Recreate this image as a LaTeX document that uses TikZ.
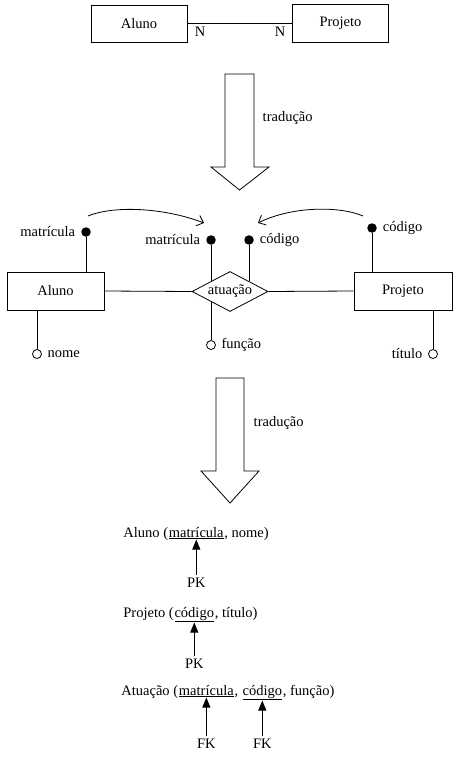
\documentclass[tikz,border=0pt]{standalone}
\usepackage{fontspec}
\setmainfont{Liberation Serif}
\usetikzlibrary{arrows.meta, positioning, shapes.geometric}

\begin{document}
\begin{tikzpicture}[
  x=1pt, y=-1pt,
  font=\fontsize{14.5}{17}\selectfont,
  line width=0.8pt,
  ent/.style={draw, minimum width=96pt, minimum height=38pt},
  rel/.style={draw, diamond, aspect=2, inner sep=0pt, minimum width=76pt, minimum height=40pt},
  keyatt/.style={circle, fill, inner sep=0pt, minimum size=9.5pt},
  att/.style={circle, draw, inner sep=0pt, minimum size=9pt},
  word/.style={inner sep=0pt},
  bigarr/.style={draw, fill=white},
  curv/.style={-{Straight Barb[length=6pt,width=11pt]}},
  pkarr/.style={-{Triangle[length=10pt,width=8pt]}},
  label distance=2pt
]
\useasboundingbox (0,0) rectangle (461,762);

% N:N
\node[ent, minimum height=37pt] (a0) at (139,23.5) {Aluno};
\node[ent] (p0) at (340.5,23.5) {Projeto};
\draw (a0.east) -- (p0.west);
\node (n1) at (200,32) {N};
\node (n2) at (280,32) {N};

% traducao 1
\draw[bigarr] (225,74) -- (254,74) -- (254,167) -- (269,167) -- (239.5,190) -- (211,167) -- (225,167) -- cycle;
\node[anchor=west] (t1) at (259,118) {tradução};

% entidades e relacionamento
\node[ent, minimum width=97pt] (aluno) at (55.5,291) {Aluno};
\node[ent, minimum width=98pt] (projeto) at (403,291) {Projeto};
\node[rel] (atua) at (230,291.5) {atuação};
\draw (aluno.east) -- (atua.west);
\draw (atua.east) -- (projeto.west);

% atributos
\node[keyatt, label=left:matrícula] (k1) at (86,232) {};
\draw (k1) -- (k1 |- aluno.north);
\node[keyatt, label=left:matrícula] (k2) at (211,240) {};
\draw (k2) -- (k2 |- atua.north west);
\node[keyatt, label=right:código] (k3) at (249,240) {};
\draw (k3) -- (k3 |- atua.north east);
\node[keyatt, label=right:código] (k4) at (372,228) {};
\draw (k4) -- (k4 |- projeto.north);
\node[att, label=right:nome] (nome) at (37,354) {};
\draw (nome |- aluno.south) -- (nome);
\node[att, label=right:função] (func) at (211,345) {};
\draw (func |- atua.south west) -- (func);
\node[att, label=left:título] (tit) at (433,354) {};
\draw (tit |- projeto.south) -- (tit);

% chaves migrando
\coordinate (c1) at (88,216);
\coordinate (c2) at (204,223);
\coordinate (c3) at (363,216);
\coordinate (c4) at (258,223);
\draw[curv] (c1) .. controls (115,205) and (165,208) .. (c2);
\draw[curv] (c3) .. controls (340,206) and (292,206) .. (c4);

% traducao 2
\draw[bigarr] (216,378) -- (244,378) -- (244,471) -- (259,471) -- (230,503) -- (201,471) -- (216,471) -- cycle;
\node[anchor=west] (t2) at (250,423) {tradução};

% tabelas
\node[word, anchor=base west] (r1a) at (123,537) {Aluno (};
\node[word, base right=0pt of r1a] (r1k) {\underline{matrícula}};
\node[word, base right=0pt of r1k] (r1b) {, nome)};
\node (pk1) at (r1k |- 0,583) {PK};
\draw[pkarr] (pk1.north) -- (r1k.south);

\node[word, anchor=base west] (r2a) at (123,617) {Projeto (};
\node[word, base right=0pt of r2a] (r2k) {\underline{código}};
\node[word, base right=0pt of r2k] (r2b) {, título)};
\node (pk2) at (r2k |- 0,664) {PK};
\draw[pkarr] (pk2.north) -- (r2k.south);

\node[word, anchor=base west] (r3a) at (121,695) {Atuação (};
\node[word, base right=0pt of r3a] (r3k1) {\underline{matrícula}};
\node[word, base right=0pt of r3k1] (r3c) {,\kern0.25em};
\node[word, base right=0pt of r3c] (r3k2) {\underline{código}};
\node[word, base right=0pt of r3k2] (r3b) {, função)};
\node (fk1) at (r3k1 |- 0,744) {FK};
\node (fk2) at (r3k2 |- 0,744) {FK};
\draw[pkarr] (fk1.north) -- (r3k1.south);
\draw[pkarr] (fk2.north) -- (r3k2.south);
\end{tikzpicture}
\end{document}
